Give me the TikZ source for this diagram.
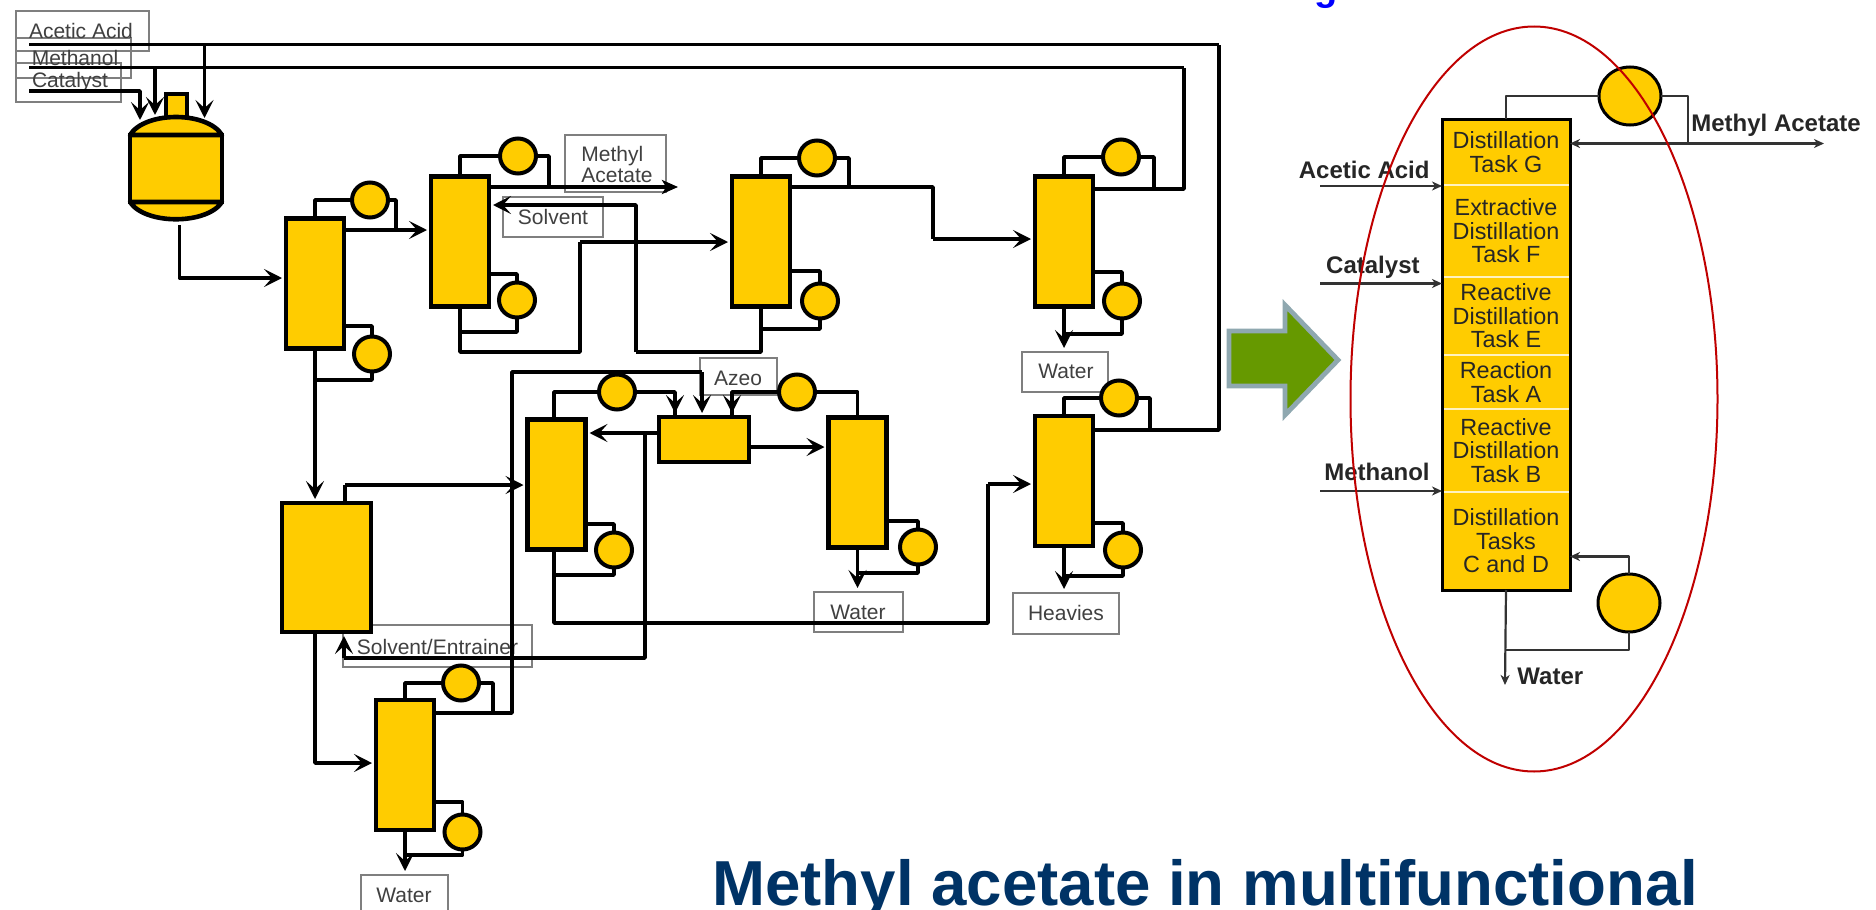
\documentclass[tikz,border=0pt]{standalone}
\usepackage{fontspec}
\setmainfont{Liberation Sans}
\usetikzlibrary{arrows.meta,shapes.geometric}
\definecolor{eqfill}{HTML}{FFCC00}
\definecolor{labgray}{HTML}{7F7F7F}
\definecolor{labtext}{HTML}{404040}
\definecolor{pale}{HTML}{FFF2BF}
\definecolor{titleblue}{HTML}{003366}
\definecolor{ringred}{HTML}{C00000}
\definecolor{arrowgreen}{HTML}{669900}
\definecolor{arrowedge}{HTML}{8FA8B0}
\tikzset{
  sized/.style 2 args={minimum width=#1*0.5pt,minimum height=#2*0.5pt},
  equip/.style={draw=black,fill=eqfill,line width=2.3pt,inner sep=0pt,outer sep=0pt,rectangle},
  coln/.style={equip,sized={58}{130}},
  cond/.style={ellipse,draw=black,fill=eqfill,line width=2pt,inner sep=0pt,outer sep=0pt,sized={36}{35}},
  bigcond/.style={ellipse,draw=black,fill=eqfill,line width=1.5pt,inner sep=0pt,outer sep=0pt,sized={62}{58}},
  pipe/.style={draw=black,line width=1.9pt,line join=round},
  flow/.style={pipe,-{Stealth[length=9pt,width=9pt,inset=4pt]},shorten >=2pt},
  thin pipe/.style={draw=black!80,line width=1.1pt,line join=round},
  thin flow/.style={thin pipe,-{Stealth[length=5pt,width=4.5pt,inset=1.5pt]}},
  labbox/.style={draw=labgray,line width=0.9pt,inner sep=0pt,outer sep=0pt,rectangle},
  labtxt/.style={text=labtext,font=\fontsize{10.5}{9.2}\selectfont,align=center,inner sep=0pt},
  section/.style={draw=pale,fill=eqfill,line width=0.9pt,inner sep=0pt,outer sep=0pt,rectangle,
     text=black!85,align=center,font=\fontsize{11.7}{11.8}\selectfont},
  sidetxt/.style={text=black!85,font=\fontsize{12}{12}\bfseries\selectfont,inner sep=0pt},
}
\begin{document}
\begin{tikzpicture}[x=0.5pt,y=-0.5pt]
\path[use as bounding box,clip] (0,0) rectangle (1876,910);
\fill[white] (0,0) rectangle (1876,910);
% cut-off letter of a title above the picture
\node[anchor=base,inner sep=0pt,text=blue,font=\fontsize{19}{20}\bfseries\selectfont] (gfrag) at (1326,1) {g};
% label boxes
\node[labbox,sized={133}{40}] (bAA) at (82.5,31) {};
\node[labbox,sized={115}{40}] (bMe) at (73.5,58) {};
\node[labbox,sized={105}{39}] (bCa) at (68.5,82.5) {};
\node[labtxt] (tAA) at (81,31) {Acetic Acid};
\node[labtxt] (tMe) at (75,58) {Methanol};
\node[labtxt] (tCa) at (70,82) {Catalyst};
\node[labbox,sized={101}{57}] (bMA) at (615.5,163.5) {};
\node[labtxt,anchor=north west,align=left] (tMA) at (581,146) {Methyl\\Acetate};
\node[labbox,sized={100}{40}] (bSo) at (553,217) {};
\node[labtxt] (tSo) at (553,217) {Solvent};
\node[labbox,sized={77}{37}] (bAz) at (738.5,376.5) {};
\node[labtxt] (tAz) at (738,378) {Azeo};
\node[labbox,sized={86}{40}] (bW1) at (1065,372) {};
\node[labtxt] (tW1) at (1066,371) {Water};
\node[labbox,sized={106}{41}] (bHe) at (1066,613.5) {};
\node[labtxt] (tHe) at (1066,613) {Heavies};
\node[labbox,sized={89}{40}] (bW2) at (858.5,612) {};
\node[labtxt] (tW2) at (858,612) {Water};
\node[labbox,sized={189}{42}] (bSE) at (437.5,646) {};
\node[labtxt] (tSE) at (437.5,647) {Solvent/Entrainer};
\node[labbox,sized={87}{50}] (bW3) at (404.5,900) {};
\node[labtxt] (tW3) at (404,895) {Water};
% vessel
\node[equip,sized={21}{23}] (neck) at (176.5,105.5) {};
\node[equip,sized={92}{67}] (vessel) at (176,168.5) {};
\filldraw[draw=black,fill=eqfill,line width=2.3pt,line join=round] (vessel.north west) .. controls (145,111) and (207,111) .. (vessel.north east) -- cycle;
\filldraw[draw=black,fill=eqfill,line width=2.3pt,line join=round] (vessel.south west) .. controls (145,225) and (207,225) .. (vessel.south east) -- cycle;
% columns
\node[coln] (c1) at (315,283.5) {};
\node[coln] (c2) at (460,241.5) {};
\node[coln] (c3) at (761,241.5) {};
\node[coln] (c7) at (1064,241.5) {};
\node[equip,sized={89}{129}] (tank) at (326.5,567.5) {};
\node[coln] (c5) at (405,765) {};
\node[coln] (c4) at (556.5,484.5) {};
\node[equip,sized={90}{45}] (dec) at (704,439.5) {};
\node[coln] (c6) at (857.5,482.5) {};
\node[coln] (c8) at (1064,481) {};
% condensers and reboilers
\node[cond] (cd1) at (370,200) {};
\node[cond] (rb1) at (372,354) {};
\node[cond] (cd2) at (518,156) {};
\node[cond] (rb2) at (517,300) {};
\node[cond] (cd3) at (817,158) {};
\node[cond] (rb3) at (820,301) {};
\node[cond] (cd7) at (1121,157) {};
\node[cond] (rb7) at (1122,301) {};
\node[cond] (cd5) at (461,683) {};
\node[cond] (rb5) at (462.5,832) {};
\node[cond] (cd4) at (617,392) {};
\node[cond] (rb4) at (614,550) {};
\node[cond] (cd6) at (797,392) {};
\node[cond] (rb6) at (918,547) {};
\node[cond] (cd8) at (1119,398) {};
\node[cond] (rb8) at (1123,550) {};
% free ends and junctions
\coordinate (l1) at (29,44.5);
\coordinate (l2) at (29,67.5);
\coordinate (l3) at (29,91);
\coordinate (top1) at (1219,44.5);
\coordinate (top2) at (1184,67.5);
\coordinate (d1) at (140,124);
\coordinate (d2) at (155,119);
\coordinate (d3) at (204.5,122);
\coordinate (vout) at (179.5,225);
\coordinate (maend) at (678,187);
\coordinate (j1) at (396,230);
\coordinate (j2) at (549,187);
\coordinate (j3) at (849,187);
\coordinate (j7) at (1154,189);
\coordinate (j8) at (1150,430);
\coordinate (j5) at (493,713);
\coordinate (a4) at (675,415);
\coordinate (a6) at (732,415);
\coordinate (sov) at (636,205);
\coordinate (hor) at (636,352);
\coordinate (s2) at (580,352);
\coordinate (s3) at (580,242);
\coordinate (m3) at (933,187);
\coordinate (m4) at (933,239);
\coordinate (v1) at (512,713);
\coordinate (v2) at (512,372);
\coordinate (v3) at (702,372);
\coordinate (se1) at (344,658);
\coordinate (se2) at (645,658);
\coordinate (se3) at (645,433);
\coordinate (hv1) at (554,623);
\coordinate (hv2) at (988,623);
\coordinate (hv3) at (988,484);
\coordinate (tk1) at (345,485);
\coordinate (lo1) at (315,763);
% feed lines
\draw[pipe] (l1) -- (top1);
\draw[pipe] (l2) -- (top2);
\draw[flow] (l3) -| (d1);
\draw[flow] (l2 -| d2) -- (d2);
\draw[flow] (l1 -| d3) -- (d3);
\draw[flow] (vout) |- (c1.west |- 0,278);
% column 1
\draw[pipe] (c1.north) |- (cd1.west);
\draw[pipe] (cd1.east) -| (j1);
\draw[flow] (c1.east |- j1) -- (c2.west |- j1);
\draw[pipe] (c1.east |- 0,326) -| (rb1.north);
\draw[pipe] (rb1.south) |- (c1.south |- 0,380);
\draw[flow] (c1.south) -- (c1.south |- tank.north);
% column 2
\draw[pipe] (c2.north) |- (cd2.west);
\draw[pipe] (cd2.east) -| (j2);
\draw[pipe,line width=2.2pt,-{Stealth[length=8pt,width=7pt,inset=2pt]}] (c2.east |- j2) -- (maend);
\draw[pipe] (c2.east |- 0,274) -| (rb2.north);
\draw[pipe] (rb2.south) |- (c2.south |- 0,332);
\draw[pipe] (c2.south) |- (s2) -- (s3);
\draw[flow] (s3) -- (c3.west |- s3);
\draw[flow] (hor) -- (sov) -- (c2.east |- sov);
% column 3
\draw[pipe] (c3.north) |- (cd3.west);
\draw[pipe] (cd3.east) -| (j3);
\draw[pipe] (c3.east |- j3) -- (m3) -- (m4);
\draw[flow] (m4) -- (c7.west |- m4);
\draw[pipe] (c3.east |- 0,271) -| (rb3.north);
\draw[pipe] (rb3.south) |- (c3.south |- 0,329);
\draw[pipe] (c3.south) |- (hor);
% column 7
\draw[pipe] (c7.north) |- (cd7.west);
\draw[pipe] (cd7.east) -| (j7);
\draw[pipe] (c7.east |- j7) -| (top2);
\draw[pipe] (c7.east |- 0,272) -| (rb7.north);
\draw[pipe] (rb7.south) |- (c7.south |- 0,334);
\draw[flow] (c7.south) -- (bW1.north -| c7.south);
% column 8
\draw[pipe] (c8.north) |- (cd8.west);
\draw[pipe] (cd8.east) -| (j8);
\draw[pipe] (c8.east |- j8) -| (top1);
\draw[pipe] (c8.east |- 0,523) -| (rb8.north);
\draw[pipe] (rb8.south) |- (c8.south |- 0,576);
\draw[flow] (c8.south) -- (bHe.north -| c8.south);
% tank and column 5
\draw[pipe] (tk1 |- tank.north) -- (tk1);
\draw[flow] (tk1) -- (c4.west |- tk1);
\draw[flow] (c1.south |- tank.south) |- (c5.west |- lo1);
\draw[pipe] (c5.north) |- (cd5.west);
\draw[pipe] (cd5.east) -| (j5);
\draw[pipe] (c5.east |- j5) -- (v1) -- (v2) -- (v3);
\draw[flow] (v3) -- (v3 |- dec.north);
\draw[pipe] (c5.east |- 0,802) -| (rb5.north);
\draw[pipe] (rb5.south) |- (c5.south |- 0,855);
\draw[flow] (c5.south) -- (bW3.north -| c5.south);
\draw[flow] (se1) -- (se1 |- tank.south);
\draw[pipe] (se1) -- (se2) -- (se3);
% column 4
\draw[pipe] (c4.north -| 554,0) |- (cd4.west);
\draw[pipe] (cd4.east) -| (a4);
\draw[flow] (a4) -- (a4 |- dec.north);
\draw[pipe] (c4.east |- 0,524) -| (rb4.north);
\draw[pipe] (rb4.south) |- (hv1 |- 0,575);
\draw[pipe] (hv1 |- c4.south) -- (hv1) -- (hv2) -- (hv3);
\draw[flow] (hv3) -- (c8.west |- hv3);
\draw[flow] (dec.west |- se3) -- (c4.east |- se3);
% decanter and column 6
\draw[flow] (dec.east |- 0,447) -- (c6.west |- 0,447);
\draw[pipe] (c6.north) |- (cd6.east);
\draw[pipe] (cd6.west) -| (a6);
\draw[flow] (a6) -- (a6 |- dec.north);
\draw[pipe] (c6.east |- 0,521) -| (rb6.north);
\draw[pipe] (rb6.south) |- (c6.south |- 0,573);
\draw[flow] (c6.south) -- (bW2.north -| c6.south);
% big arrow
\filldraw[draw=arrowedge,fill=arrowgreen,line width=2.4pt,line join=miter] (1229,331) -- (1285,331) -- (1285,305) -- (1338,360) -- (1285,415) -- (1285,386) -- (1229,386) -- cycle;
% integrated column
\node[section,sized={128}{66}] (r1) at (1506,152) {Distillation\\Task G};
\node[section,sized={128}{92}] (r2) at (1506,231) {Extractive\\Distillation\\Task F};
\node[section,sized={128}{78}] (r3) at (1506,316) {Reactive\\Distillation\\Task E};
\node[section,sized={128}{54}] (r4) at (1506,382) {Reaction\\Task A};
\node[section,sized={128}{83}] (r5) at (1506,450.5) {Reactive\\Distillation\\Task B};
\node[section,sized={128}{98}] (r6) at (1506,541) {Distillation\\Tasks\\C and D};
\draw[black,line width=1.5pt] (r1.north west) rectangle (r6.south east);
\node[bigcond] (rc) at (1630,96) {};
\node[bigcond] (rr) at (1629,603) {};
\coordinate (x1) at (1688,143.5);
\coordinate (x2) at (1824,143.5);
\coordinate (a1) at (1320,186);
\coordinate (a2) at (1320,283.5);
\coordinate (a3) at (1320,491);
\coordinate (wend) at (1505,685);
\draw[thin pipe] (r1.north) |- (rc.west);
\draw[thin pipe] (rc.east) -| (x1);
\draw[thin flow] (x1) -- (r1.east |- x1);
\draw[thin flow] (x1) -- (x2);
\draw[thin flow] (rr.north) |- (r6.east |- 0,556.5);
\draw[thin pipe] (rr.south) |- (r6.south |- 0,650);
\draw[thin flow] (r6.south) -- (wend);
\draw[thin flow] (a1) -- (r1.west |- a1);
\draw[thin flow] (a2) -- (r1.west |- a2);
\draw[thin flow] (a3) -- (r1.west |- a3);
\node[sidetxt,anchor=east] (sAA) at (1430,170) {Acetic Acid};
\node[sidetxt,anchor=east] (sCa) at (1420,267) {Catalyst};
\node[sidetxt,anchor=east] (sMe) at (1430,472) {Methanol};
\node[sidetxt,anchor=west] (sMA) at (1691,125) {Methyl Acetate};
\node[sidetxt,anchor=west] (sWa) at (1517,676) {Water};
% ring
\draw[ringred,line width=1pt] (1534,399) ellipse [x radius=183.5,y radius=372.5];
% title
\node[anchor=base west,inner sep=0pt,text=titleblue,font=\fontsize{31.8}{34}\bfseries\selectfont] (title) at (712,905) {Methyl acetate in multifunctional};
\end{tikzpicture}
\end{document}
